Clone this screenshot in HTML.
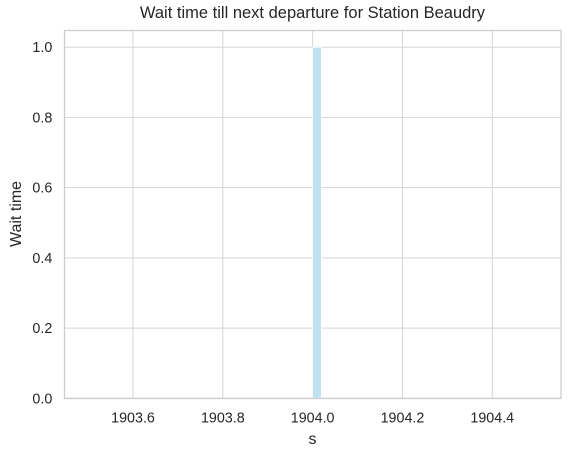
<!DOCTYPE html>
<html><head><meta charset="utf-8"><style>
body{margin:0;background:#fff;font-family:"Liberation Sans",sans-serif;}
</style></head><body>
<svg id="chart" width="571" height="457" xmlns="http://www.w3.org/2000/svg">
<rect width="571" height="457" fill="#fff"/>
<text x="312.5" y="18" text-anchor="middle" font-size="16.5" fill="#262626" font-family="Liberation Sans, sans-serif">Wait time till next departure for Station Beaudry</text>
<g id="grid"></g>
<g id="bars"></g>
<rect x="64.5" y="30.5" width="496.5" height="368" fill="none" stroke="#ccc" stroke-width="1.25"/>
<g id="ticks" font-size="14.3" fill="#262626" font-family="Liberation Sans, sans-serif"></g>
<text x="312.5" y="444" text-anchor="middle" font-size="16" fill="#262626" font-family="Liberation Sans, sans-serif">s</text>
<text transform="translate(21,214) rotate(-90)" text-anchor="middle" font-size="16" fill="#262626" font-family="Liberation Sans, sans-serif">Wait time</text>
</svg>
<script>
const binStarts=[1904.0];
const binWidths=[0.0193];
const counts=[1.0];
const xTicks=[1903.6,1903.8,1904.0,1904.2,1904.4];
const yTicks=[0.0,0.2,0.4,0.6,0.8,1.0];
const X0=1903.447,X1=1904.553,Y0=0,Y1=1.049;
const L=64.3,R=561,T=30,B=398.3;
function sx(v){return L+(v-X0)/(X1-X0)*(R-L);}
function sy(v){return B-(v-Y0)/(Y1-Y0)*(B-T);}
const NS='http://www.w3.org/2000/svg';
const grid=document.getElementById('grid'),ticks=document.getElementById('ticks'),bars=document.getElementById('bars');
xTicks.forEach(t=>{
 const l=document.createElementNS(NS,'line');
 l.setAttribute('x1',sx(t));l.setAttribute('x2',sx(t));l.setAttribute('y1',T);l.setAttribute('y2',B);
 l.setAttribute('stroke','#d5d5d5');l.setAttribute('stroke-width','1');
 
 
 grid.appendChild(l);
 const tx=document.createElementNS(NS,'text');
 tx.setAttribute('x',sx(t));tx.setAttribute('y',B+24);tx.setAttribute('text-anchor','middle');
 tx.textContent=t.toFixed(1);
 
 
 ticks.appendChild(tx);
});
yTicks.forEach(t=>{
 const l=document.createElementNS(NS,'line');
 l.setAttribute('x1',L);l.setAttribute('x2',R);l.setAttribute('y1',sy(t));l.setAttribute('y2',sy(t));
 l.setAttribute('stroke','#d5d5d5');l.setAttribute('stroke-width','1');
 
 
 grid.appendChild(l);
 const tx=document.createElementNS(NS,'text');
 tx.setAttribute('x',L-12);tx.setAttribute('y',sy(t)+5);tx.setAttribute('text-anchor','end');
 tx.textContent=t.toFixed(1);
 
 
 ticks.appendChild(tx);
});
counts.forEach((c,i)=>{
 const r=document.createElementNS(NS,'rect');
 const x=sx(binStarts[i]),w=sx(binStarts[i]+binWidths[i])-x;
 r.setAttribute('x',x);r.setAttribute('y',sy(c));r.setAttribute('width',w);r.setAttribute('height',sy(0)-sy(c));
 r.setAttribute('fill','#bfe2f1');r.setAttribute('stroke','#fff');r.setAttribute('stroke-width','0.75');
 
 
 bars.appendChild(r);
});
</script>
</body></html>
